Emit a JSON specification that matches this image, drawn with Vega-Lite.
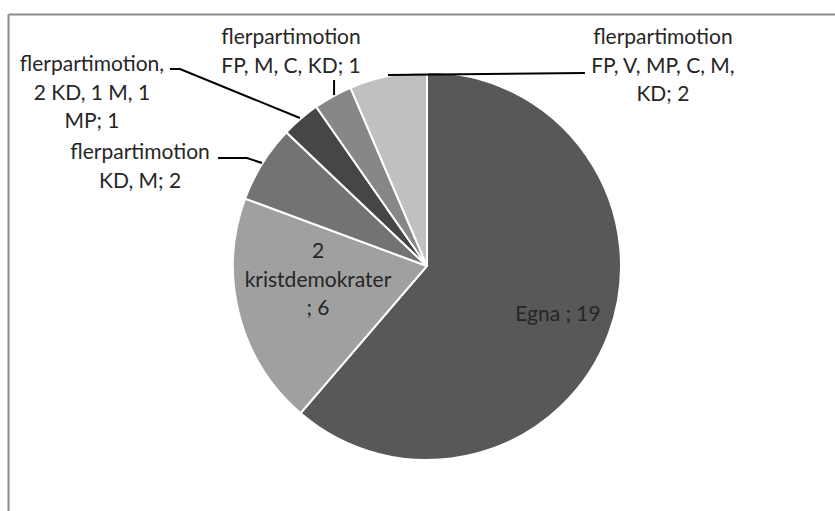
{
  "$schema": "https://vega.github.io/schema/vega-lite/v6.json",
  "width": 827,
  "height": 497,
  "autosize": {"type": "none"},
  "padding": {"left": 8, "top": 14, "right": 0, "bottom": 0},
  "background": "white",
  "config": {"view": {"stroke": null}},
  "datasets": {
    "slices": [
      {"idx": 1, "name": "Egna", "value": 19},
      {"idx": 2, "name": "2 kristdemokrater", "value": 6},
      {"idx": 3, "name": "flerpartimotion KD, M", "value": 2},
      {"idx": 4, "name": "flerpartimotion, 2 KD, 1 M, 1 MP", "value": 1},
      {"idx": 5, "name": "flerpartimotion FP, M, C, KD", "value": 1},
      {"idx": 6, "name": "flerpartimotion FP, V, MP, C, M, KD", "value": 2}
    ],
    "labels": [
      {"text": "Egna ; 19", "u": 0.675, "v": -0.253},
      {"text": "2\nkristdemokrater\n; 6", "u": -0.562, "v": 0.072},
      {"text": "flerpartimotion\nKD, M; 2", "u": -1.479, "v": 0.582},
      {"text": "flerpartimotion,\n2 KD, 1 M, 1\nMP; 1", "u": -1.727, "v": 1.036},
      {"text": "flerpartimotion\nFP, M, C, KD; 1", "u": -0.701, "v": 1.175},
      {"text": "flerpartimotion\nFP, V, MP, C, M,\nKD; 2", "u": 1.216, "v": 1.175}
    ],
    "leaders": [
      {"id": "a", "k": 1, "u": -1.325, "v": 1.015},
      {"id": "a", "k": 2, "u": -1.273, "v": 1.015},
      {"id": "a", "k": 3, "u": -0.655, "v": 0.763},
      {"id": "b", "k": 1, "u": -1.077, "v": 0.557},
      {"id": "b", "k": 2, "u": -0.928, "v": 0.557},
      {"id": "b", "k": 3, "u": -0.851, "v": 0.531},
      {"id": "c", "k": 1, "u": -0.479, "v": 0.959},
      {"id": "c", "k": 2, "u": -0.479, "v": 0.881},
      {"id": "d", "k": 1, "u": -0.201, "v": 0.985},
      {"id": "d", "k": 2, "u": 0.814, "v": 0.995}
    ]
  },
  "layer": [
    {
      "data": {"values": [{"c": 0, "value": 1}]},
      "mark": {"type": "arc", "outerRadius": 196, "fill": "#bdbdbd", "opacity": 0.45, "yOffset": 3},
      "encoding": {
        "x": {"datum": 0, "type": "quantitative", "scale": {"domain": [-2.1598, 2.1031], "nice": false, "zero": false},
          "axis": {"orient": "top", "domain": true, "domainColor": "#8a8a8a", "domainWidth": 2, "ticks": false, "labels": false, "grid": false, "title": null}},
        "y": {"datum": 0, "type": "quantitative", "scale": {"domain": [-1.2629, 1.299], "nice": false, "zero": false},
          "axis": {"orient": "left", "domain": true, "domainColor": "#8a8a8a", "domainWidth": 2, "ticks": false, "labels": false, "grid": false, "title": null}},
        "theta": {"field": "value", "type": "quantitative"}
      }
    },
    {
      "data": {"name": "slices"},
      "mark": {"type": "arc", "outerRadius": 194, "stroke": "white", "strokeWidth": 2},
      "encoding": {
        "x": {"datum": 0, "type": "quantitative"},
        "y": {"datum": 0, "type": "quantitative"},
        "theta": {"field": "value", "type": "quantitative", "stack": true},
        "order": {"field": "idx", "type": "quantitative"},
        "color": {
          "field": "name", "type": "nominal", "legend": null,
          "scale": {
            "domain": ["Egna", "2 kristdemokrater", "flerpartimotion KD, M", "flerpartimotion, 2 KD, 1 M, 1 MP", "flerpartimotion FP, M, C, KD", "flerpartimotion FP, V, MP, C, M, KD"],
            "range": ["#585858", "#a0a0a0", "#737373", "#464646", "#878787", "#c0c0c0"]
          }
        }
      }
    },
    {
      "data": {"name": "leaders"},
      "mark": {"type": "line", "color": "#000000", "strokeWidth": 2},
      "encoding": {
        "x": {"field": "u", "type": "quantitative"},
        "y": {"field": "v", "type": "quantitative"},
        "detail": {"field": "id"},
        "order": {"field": "k", "type": "quantitative"}
      }
    },
    {
      "data": {"name": "labels"},
      "mark": {"type": "text", "font": "Lato", "fontSize": 21, "color": "#262626", "align": "center", "baseline": "middle", "lineBreak": "\n", "lineHeight": 28.5},
      "encoding": {
        "x": {"field": "u", "type": "quantitative"},
        "y": {"field": "v", "type": "quantitative"},
        "text": {"field": "text"}
      }
    }
  ]
}
